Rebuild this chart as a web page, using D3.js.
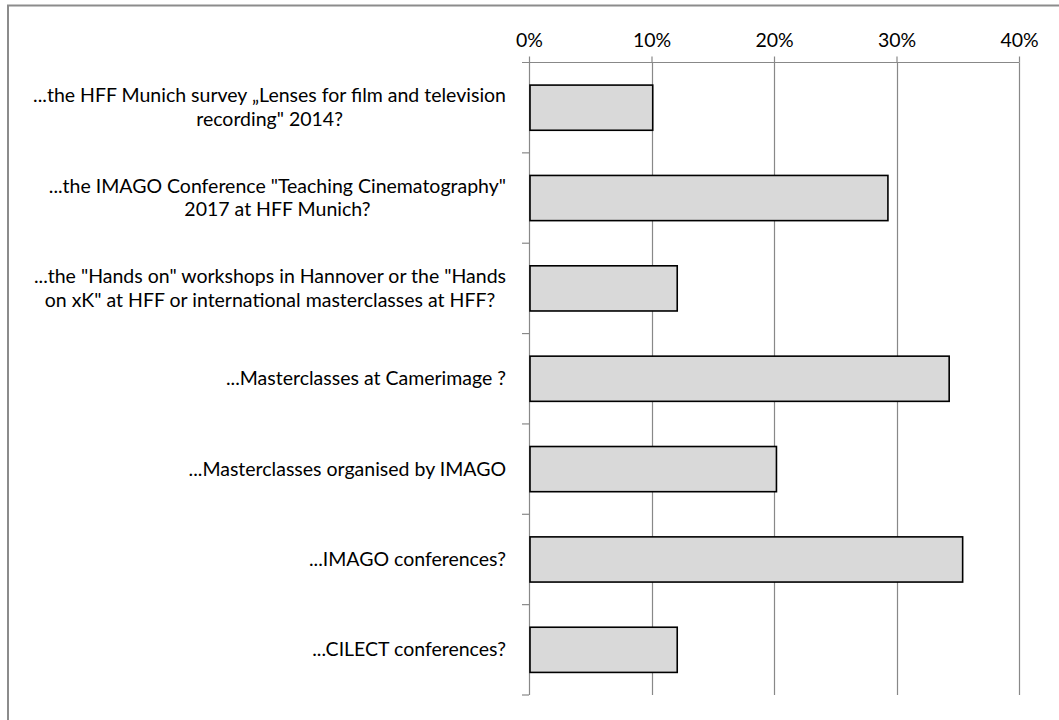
<!DOCTYPE html>
<html>
<head>
<meta charset="utf-8">
<script src="https://cdn.jsdelivr.net/npm/d3@7"></script>
<style>
  html, body { margin: 0; padding: 0; background: #fff; }
  svg { display: block; }
</style>
</head>
<body>
<svg id="chart" width="1059" height="720"></svg>
<script>
// ---- data ----
const categories = [
  "...the HFF Munich survey \u201ELenses for film and television\nrecording\" 2014?",
  "...the IMAGO Conference \"Teaching Cinematography\"\n2017 at HFF Munich?",
  "...the \"Hands on\" workshops in Hannover or the \"Hands\non xK\" at HFF or international masterclasses at HFF?",
  "...Masterclasses at Camerimage ?",
  "...Masterclasses organised by IMAGO",
  "...IMAGO conferences?",
  "...CILECT conferences?"
];
const values = [0.101, 0.293, 0.121, 0.343, 0.202, 0.354, 0.121];
const tickValues = [0, 0.1, 0.2, 0.3, 0.4];
const tickLabels = ["0%", "10%", "20%", "30%", "40%"];

// ---- layout ----
const FONT = "Lato, 'Open Sans', sans-serif";
const FS = 19.5;
const plot = { left: 529, right: 1019, top: 62.5, bottom: 695 };
const gridColor = "#888888";

const svg = d3.select("#chart");

// outer frame (top and left visible)
svg.append("rect")
  .attr("x", 8).attr("y", 5.5)
  .attr("width", 1100).attr("height", 800)
  .attr("fill", "#fff")
  .attr("stroke", "#8c8c8c").attr("stroke-width", 2);

const x = d3.scaleLinear().domain([0, 0.4]).range([plot.left, plot.right]);
const y = d3.scaleBand().domain(categories)
  .range([plot.top, plot.bottom])
  .paddingInner(0.5).paddingOuter(0.25);

// gridlines
svg.append("g").selectAll("line")
  .data(tickValues.filter(d => d > 0))
  .join("line")
  .attr("x1", d => Math.round(x(d)) + 0.5).attr("x2", d => Math.round(x(d)) + 0.5)
  .attr("y1", plot.top).attr("y2", plot.bottom)
  .attr("stroke", gridColor).attr("stroke-width", 1.2);

// top x axis
const xAxis = d3.axisTop(x)
  .tickValues(tickValues)
  .tickFormat((d, i) => tickLabels[i])
  .tickSize(6).tickSizeOuter(0).tickPadding(10);
const gx = svg.append("g")
  .attr("transform", `translate(0,${plot.top})`)
  .call(xAxis);
gx.select(".domain").remove();
gx.selectAll(".tick line").attr("stroke", gridColor).attr("stroke-width", 1.2);
gx.selectAll(".tick text")
  .attr("fill", "#000")
  .style("font-family", FONT).style("font-size", FS + "px");
svg.append("line")
  .attr("x1", plot.left - 7).attr("x2", plot.right)
  .attr("y1", plot.top).attr("y2", plot.top)
  .attr("stroke", gridColor).attr("stroke-width", 1.2);

// left category axis line + ticks at band boundaries
svg.append("line")
  .attr("x1", plot.left + 0.5).attr("x2", plot.left + 0.5)
  .attr("y1", plot.top).attr("y2", plot.bottom)
  .attr("stroke", gridColor).attr("stroke-width", 1.2);
const step = y.step();
svg.append("g").selectAll("line")
  .data(d3.range(1, categories.length + 1))
  .join("line")
  .attr("x1", plot.left - 7).attr("x2", plot.left)
  .attr("y1", i => plot.top + i * step).attr("y2", i => plot.top + i * step)
  .attr("stroke", gridColor).attr("stroke-width", 1.2);

// bars
svg.append("g").selectAll("rect")
  .data(categories)
  .join("rect")
  .attr("x", x(0) + 1)
  .attr("y", d => y(d))
  .attr("width", (d, i) => x(values[i]) - x(0) - 1)
  .attr("height", y.bandwidth())
  .attr("fill", "#d9d9d9")
  .attr("stroke", "#000").attr("stroke-width", 1.6);

// category labels (centered multi-line blocks, right edge at 506)
const labelRight = 506;
const lineH = 23.5;
categories.forEach(cat => {
  const lines = cat.split("\n");
  const cy = y(cat) + y.bandwidth() / 2;
  const g = svg.append("g");
  const texts = g.selectAll("text").data(lines).join("text")
    .attr("text-anchor", "middle")
    .attr("x", 0)
    .attr("y", (d, i) => cy + 6.5 + (i - (lines.length - 1) / 2) * lineH)
    .style("font-family", FONT).style("font-size", FS + "px")
    .attr("fill", "#000")
    .text(d => d);
  let maxW = 0;
  texts.each(function() { maxW = Math.max(maxW, this.getComputedTextLength()); });
  g.attr("transform", `translate(${labelRight - maxW / 2},0)`);
});
</script>
</body>
</html>
